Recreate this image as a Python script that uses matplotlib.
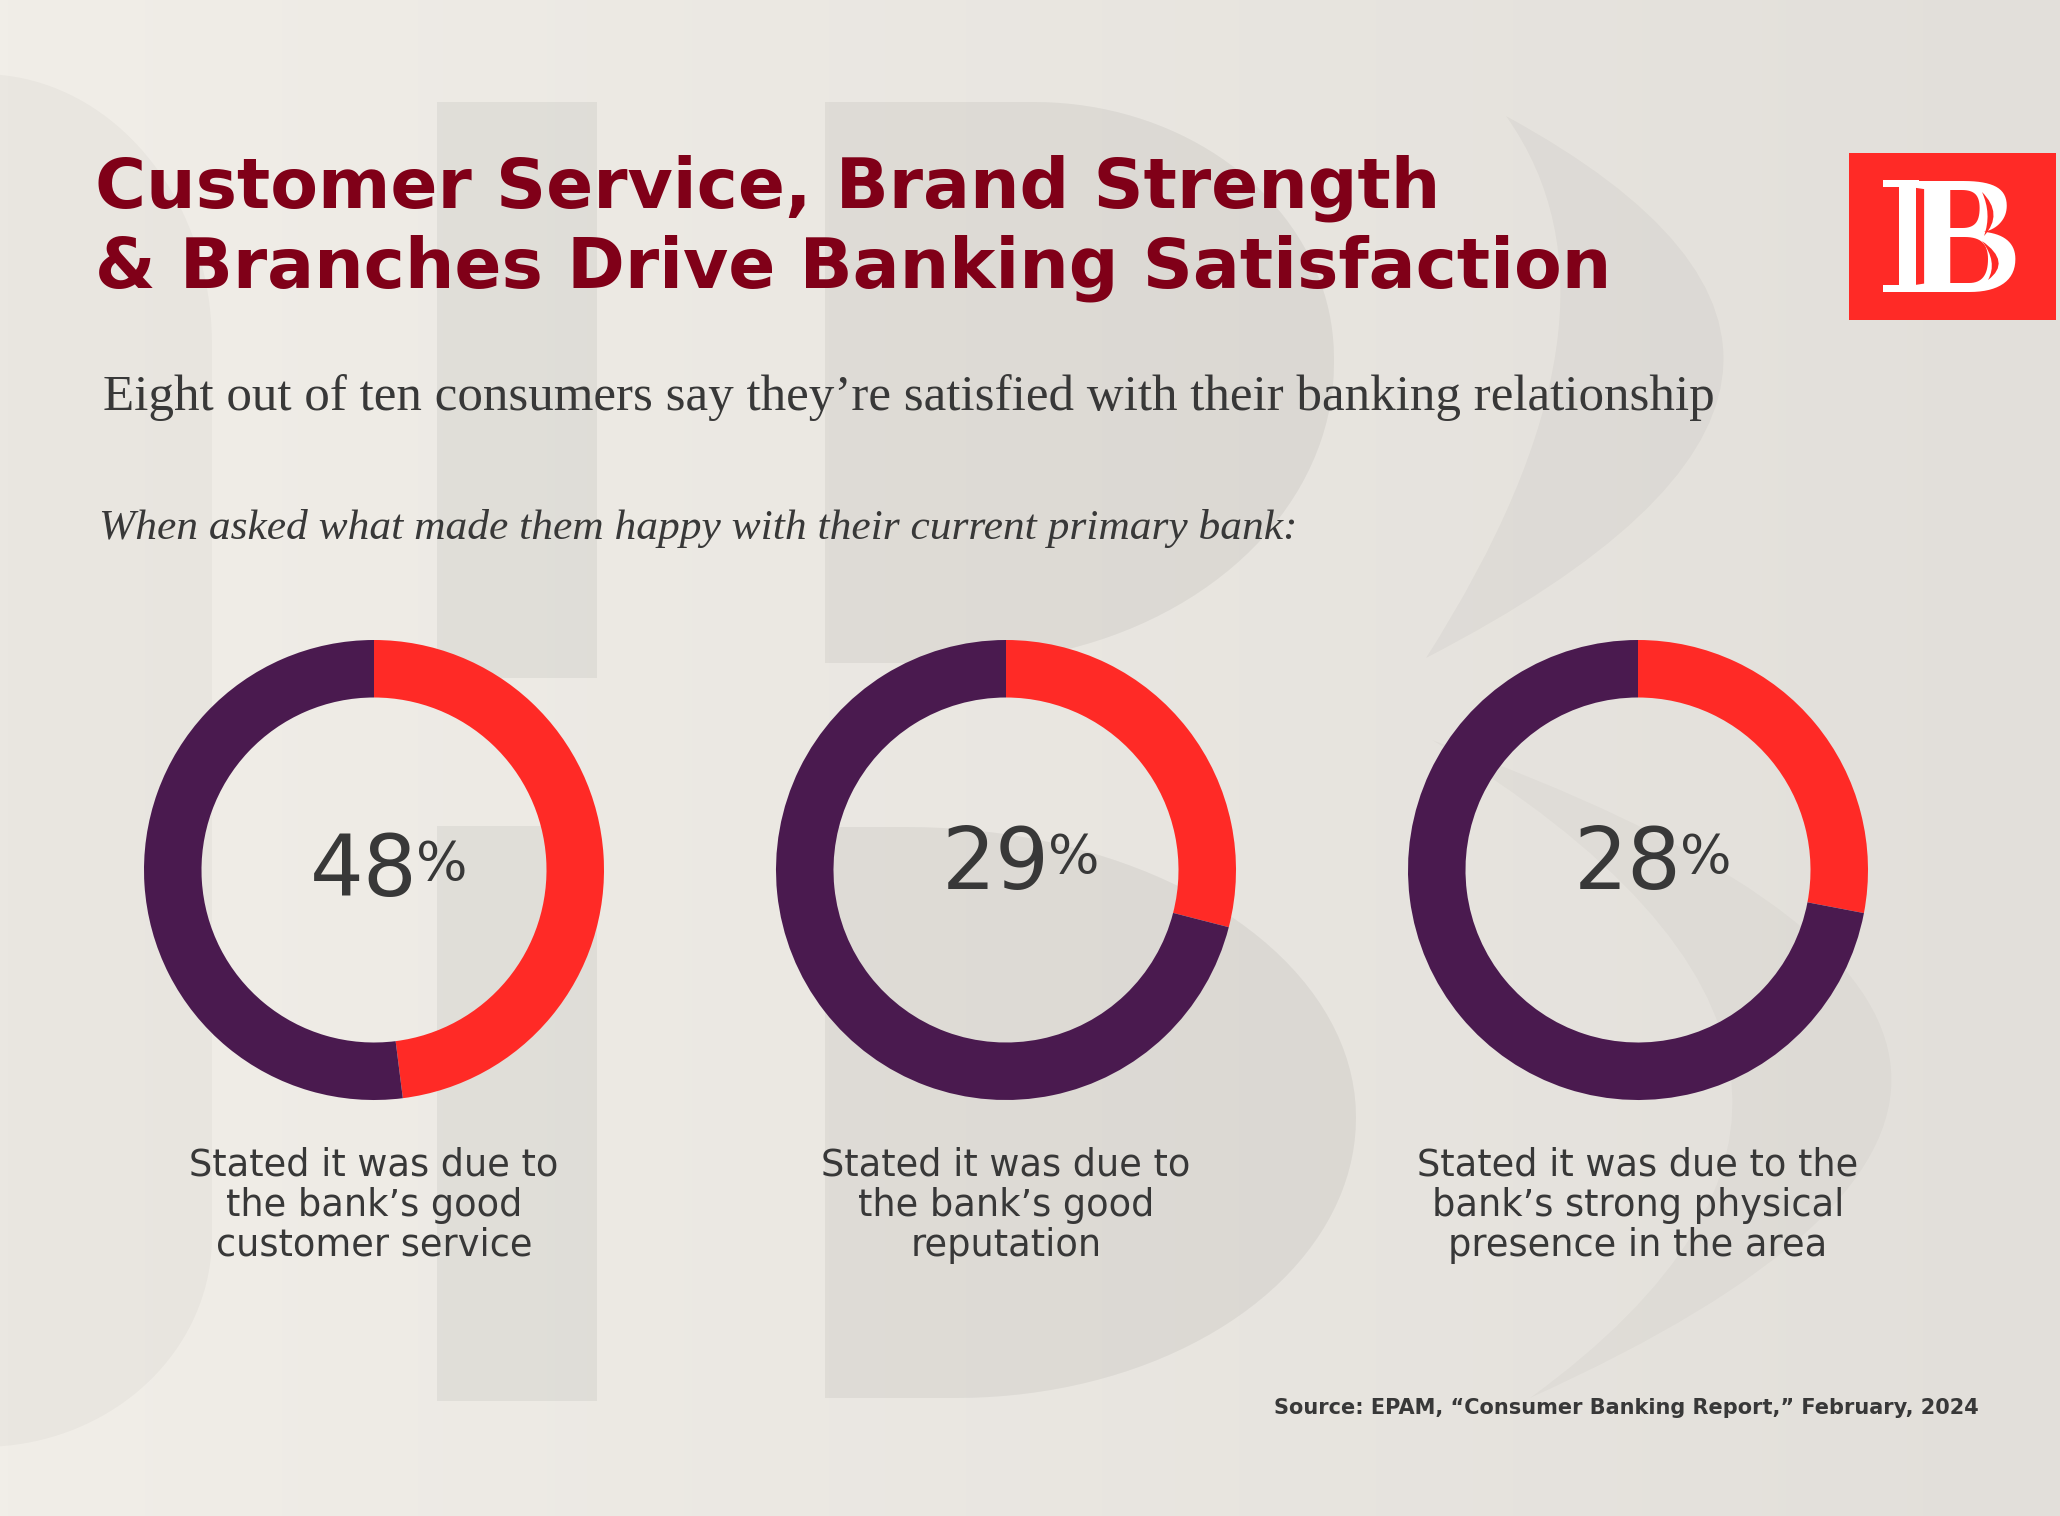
import numpy as np
import matplotlib.pyplot as plt
from matplotlib.path import Path
from matplotlib.patches import PathPatch, Rectangle, Polygon

# chart data
shares = [48, 29, 28]
share_labels = ['48', '29', '28']
captions = [
    ['Stated it was due to', 'the bank\u2019s good', 'customer service'],
    ['Stated it was due to', 'the bank\u2019s good', 'reputation'],
    ['Stated it was due to the', 'bank\u2019s strong physical', 'presence in the area'],
]
title_lines = ['Customer Service, Brand Strength',
               '& Branches Drive Banking Satisfaction']
subtitle = 'Eight out of ten consumers say they\u2019re satisfied with their banking relationship'
question = 'When asked what made them happy with their current primary bank:'
source = 'Source: EPAM, \u201cConsumer Banking Report,\u201d February, 2024'

RED = '#FF2A26'
PURPLE = '#4A1A4F'
TITLE_RED = '#800018'
TEXT = '#383838'

W, H = 2060, 1516
fig = plt.figure(figsize=(W / 100, H / 100), dpi=100)
ax = fig.add_axes([0, 0, 1, 1])

# background gradient
left = np.array([241, 238, 232]) / 255
right = np.array([226, 223, 218]) / 255
t = np.linspace(0, 1, 256)
grad = left[None, None, :] + (right - left)[None, None, :] * t[None, :, None]
ax.imshow(grad, extent=(0, W, H, 0), aspect='auto', zorder=0)


# faint oversized logo in the back
def bowl(x0, x1, y0, y1, rtop, rbot):
    a = np.linspace(0, np.pi / 2, 40)
    top = np.column_stack([x1 - rtop[0] + rtop[0] * np.sin(a), y0 + rtop[1] - rtop[1] * np.cos(a)])
    bot = np.column_stack([x1 - rbot[0] + rbot[0] * np.cos(a), y1 - rbot[1] + rbot[1] * np.sin(a)])
    pts = np.vstack([[x0, y0], top, bot, [x0, y1]])
    return pts


def crescent(p0, p1, c_out, c_in):
    verts = [p0, c_out, p1, c_in, p0, p0]
    codes = [Path.MOVETO, Path.CURVE3, Path.CURVE3, Path.CURVE3, Path.CURVE3, Path.CLOSEPOLY]
    return Path(verts, codes)


wm = dict(facecolor='black', edgecolor='none', zorder=1)
ax.add_patch(Polygon(bowl(-60, 212, 74, 1447, (230, 270), (230, 210)), alpha=0.028, **wm))
ax.add_patch(Rectangle((437, 102), 160, 576, alpha=0.05, **wm))
ax.add_patch(Rectangle((437, 826), 160, 575, alpha=0.05, **wm))
ax.add_patch(Polygon(bowl(825, 1334, 102, 663, (300, 256), (380, 300)), alpha=0.05, **wm))
ax.add_patch(Polygon(bowl(825, 1356, 827, 1398, (450, 290), (400, 280)), alpha=0.05, **wm))
ax.add_patch(PathPatch(crescent((1506, 116), (1426, 658), (1978, 373), (1646, 313)), alpha=0.03, **wm))
ax.add_patch(PathPatch(crescent((1432, 740), (1530, 1398), (2299, 1051), (1979, 1071)), alpha=0.022, **wm))

# titles
for i, line in enumerate(title_lines):
    ax.text(95, 208 + i * 80, line, fontsize=50, fontweight='bold', color=TITLE_RED,
            family='DejaVu Sans', ha='left', va='baseline', zorder=3)
ax.text(103, 410, subtitle, fontsize=36.7, color=TEXT, family='Liberation Serif',
        ha='left', va='baseline', zorder=3)
ax.text(99, 539, question, fontsize=31.3, color=TEXT, family='Liberation Serif',
        style='italic', ha='left', va='baseline', zorder=3)

# logo
ax.add_patch(Rectangle((1849, 153), 207, 167, facecolor=RED, edgecolor='none', zorder=3))
ax.text(1906, 292, 'B', fontsize=122, fontweight='bold', color='white',
        family='Liberation Serif', ha='left', va='baseline', zorder=4)
ax.add_patch(Rectangle((1899, 186), 17, 100, facecolor='white', edgecolor='none', zorder=4))
ax.add_patch(Rectangle((1883, 180), 36, 7, facecolor='white', edgecolor='none', zorder=4))
ax.add_patch(Rectangle((1883, 285), 36, 7, facecolor='white', edgecolor='none', zorder=4))
ax.add_patch(Rectangle((1916, 190), 3, 92, facecolor=RED, edgecolor='none', zorder=5))
logo_red = dict(facecolor=RED, edgecolor='none', zorder=5)
ax.add_patch(PathPatch(crescent((1982, 192), (1984, 236), (2004, 214), (1992, 214)), **logo_red))
ax.add_patch(PathPatch(crescent((1982, 241), (1988, 280), (2012, 262), (1998, 262)), **logo_red))

# donuts
R = 230
cy = 870
baselines = [896, 889, 889]
for i, share in enumerate(shares):
    cx = 374 + i * 632
    dax = fig.add_axes([(cx - R) / W, 1 - (cy + R) / H, 2 * R / W, 2 * R / H])
    dax.pie([share, 100 - share], colors=[RED, PURPLE], startangle=90, counterclock=False,
            radius=1, wedgeprops=dict(width=0.25, edgecolor='none', linewidth=0))
    dax.set_xlim(-1, 1)
    dax.set_ylim(-1, 1)
    dax.set_aspect('equal')
    dax.axis('off')

    ax.text(cx + 44, baselines[i], share_labels[i], fontsize=61, color=TEXT,
            family='DejaVu Sans', ha='right', va='baseline', zorder=3)
    ax.text(cx + 42, baselines[i] - 16, '%', fontsize=39, color=TEXT,
            family='DejaVu Sans', ha='left', va='baseline', zorder=3)

    for j, line in enumerate(captions[i]):
        ax.text(cx, 1176 + j * 40, line, fontsize=26.5, color=TEXT, family='DejaVu Sans',
                ha='center', va='baseline', zorder=3)

ax.text(1979, 1414, source, fontsize=15, fontweight='bold', color=TEXT,
        family='DejaVu Sans', ha='right', va='baseline', zorder=3)

ax.set_xlim(0, W)
ax.set_ylim(H, 0)
ax.axis('off')

fig.savefig('out.png', dpi=100)
